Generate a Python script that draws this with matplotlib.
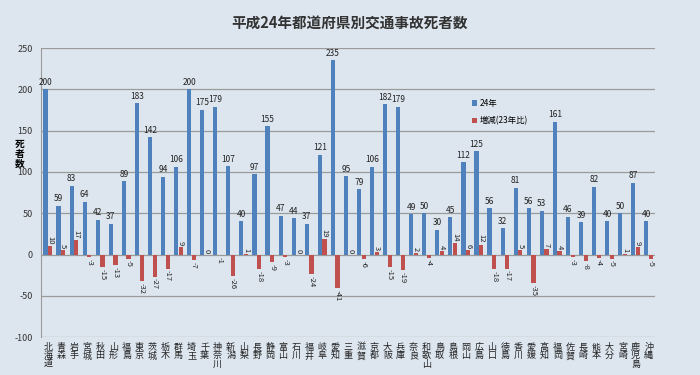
import matplotlib.pyplot as plt
import numpy as np

plt.rcParams['font.family'] = ['Noto Sans CJK JP', 'DejaVu Sans']
plt.rcParams['axes.unicode_minus'] = False

prefs = ["北海道", "青森", "岩手", "宮城", "秋田", "山形", "福島", "東京", "茨城", "栃木",
         "群馬", "埼玉", "千葉", "神奈川", "新潟", "山梨", "長野", "静岡", "富山", "石川",
         "福井", "岐阜", "愛知", "三重", "滋賀", "京都", "大阪", "兵庫", "奈良", "和歌山",
         "鳥取", "島根", "岡山", "広島", "山口", "徳島", "香川", "愛媛", "高知", "福岡",
         "佐賀", "長崎", "熊本", "大分", "宮崎", "鹿児島", "沖縄"]
deaths_24 = [200, 59, 83, 64, 42, 37, 89, 183, 142, 94,
             106, 200, 175, 179, 107, 40, 97, 155, 47, 44,
             37, 121, 235, 95, 79, 106, 182, 179, 49, 50,
             30, 45, 112, 125, 56, 32, 81, 56, 53, 161,
             46, 39, 82, 40, 50, 87, 40]
diff_23 = [10, 5, 17, -3, -15, -13, -5, -32, -27, -17,
           9, -7, 0, -1, -26, 1, -18, -9, -3, 0,
           -24, 19, -41, 0, -6, 3, -15, -19, 2, -4,
           4, 14, 6, 12, -18, -17, 5, -35, 7, 4,
           -3, -8, -4, -5, 1, 9, -5]

bg = '#dde6ef'
blue = '#4f81bd'
red = '#c0504d'

fig = plt.figure(figsize=(7, 3.75), dpi=100, facecolor=bg)
ax = fig.add_axes([0.059, 0.101, 0.877, 0.771], facecolor=bg)

x = np.arange(len(prefs))
w = 0.32
ax.bar(x - 0.18, deaths_24, w, color=blue, label='24年', zorder=3)
ax.bar(x + 0.18, diff_23, w, color=red, label='増減(23年比)', zorder=3)

for xi, v in zip(x, deaths_24):
    ax.text(xi - 0.18, v + 3, str(v), ha='center', va='bottom', fontsize=6, color='#222222')
for xi, v in zip(x, diff_23):
    if v >= 0:
        ax.text(xi + 0.18, v + 2, str(v), ha='center', va='bottom', rotation=270,
                fontsize=5.5, color='#222222')
    else:
        ax.text(xi + 0.18, v - 2, str(v), ha='center', va='top', rotation=270,
                fontsize=5.5, color='#222222')

ax.set_xlim(-0.5, len(prefs) - 0.5)
ax.set_ylim(-100, 250)
ax.set_yticks(np.arange(-100, 251, 50))
ax.yaxis.grid(True, color='#9a9a9a', linewidth=0.9, zorder=0)
ax.tick_params(axis='y', length=0, labelsize=6.5, colors='#333333', pad=6)
ax.set_xticks(x)
ax.set_xticklabels(['\n'.join(p) for p in prefs], fontsize=6.5, linespacing=0.95,
                   va='top')
ax.tick_params(axis='x', length=0, pad=4, colors='#222222')
for s in ['top', 'right', 'bottom']:
    ax.spines[s].set_visible(False)
ax.spines['left'].set_color('#9a9a9a')

fig.text(0.028, 0.59, '死\n者\n数', ha='center', va='center', fontsize=7,
         fontweight='bold', linespacing=1.0)
fig.text(0.5, 0.94, '平成24年都道府県別交通事故死者数', ha='center', va='center',
         fontsize=10.5, fontweight='bold', color='#333333')

ax.legend(loc='upper left', bbox_to_anchor=(0.69, 0.85), frameon=False, fontsize=6,
          handlelength=0.6, handleheight=0.6, handletextpad=0.3, labelspacing=1.0)

fig.savefig('out.png', dpi=100, facecolor=bg)
